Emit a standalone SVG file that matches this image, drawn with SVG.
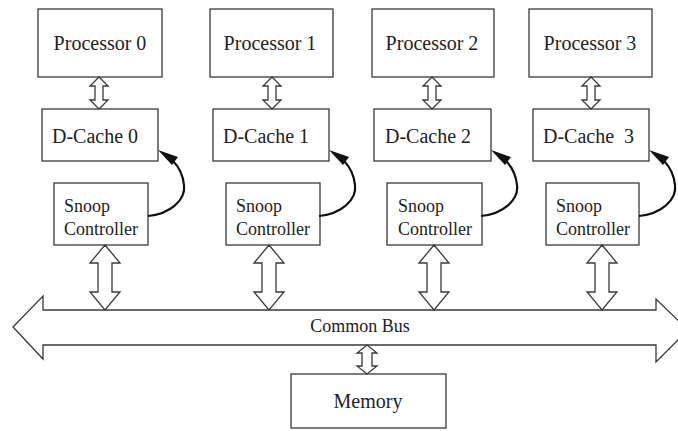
<svg xmlns="http://www.w3.org/2000/svg" width="678" height="431" viewBox="0 0 678 431">
<style>
.box{fill:#fff;stroke:#3a3a3a;stroke-width:1.3}
.t{font-family:"Liberation Serif","Times New Roman",serif;font-size:20px;fill:#222}
.ts{font-family:"Liberation Serif","Times New Roman",serif;font-size:18px;fill:#222}
.da{fill:#fff;stroke:#3a3a3a;stroke-width:1.3;stroke-linejoin:miter}
.cv{fill:none;stroke:#111;stroke-width:2.2}
.ah{fill:#111}
</style>
<defs>
<path id="pa" d="M0,0 L9,9 L4,9 L4,23 L9,23 L0,32 L-9,23 L-4,23 L-4,9 L-9,9 Z"/>
<path id="sa" d="M0,0 L15,18 L7,18 L7,47 L15,47 L0,65 L-15,47 L-7,47 L-7,18 L-15,18 Z"/>
<g id="curve">
<path class="cv" d="M148,216 C170,214 186,200 184,185 C183,175 179,167 173,161"/>
<polygon class="ah" points="158,150 178,157 172,165"/>
</g>
</defs>
<g id="bus">
<path class="da" d="M13,327 L43,296 L43,310 L656,310 L656,299 L688,330 L656,362 L656,345 L43,345 L43,359 Z"/>
<text class="ts" x="360" y="332" text-anchor="middle">Common Bus</text>
</g>
<g id="p0"><rect class="box" x="38" y="9" width="124" height="68"/><text class="t" x="100" y="50" text-anchor="middle">Processor 0</text></g>
<g id="p1"><rect class="box" x="210" y="9" width="123" height="68"/><text class="t" x="270" y="50" text-anchor="middle">Processor 1</text></g>
<g id="p2"><rect class="box" x="372" y="9" width="122" height="68"/><text class="t" x="432" y="50" text-anchor="middle">Processor 2</text></g>
<g id="p3"><rect class="box" x="529" y="9" width="123" height="68"/><text class="t" x="590" y="50" text-anchor="middle">Processor 3</text></g>
<g id="c0"><rect class="box" x="42" y="109" width="116" height="52"/><text class="t" x="52" y="143">D-Cache 0</text></g>
<g id="c1"><rect class="box" x="213" y="109" width="116" height="52"/><text class="t" x="223" y="143">D-Cache 1</text></g>
<g id="c2"><rect class="box" x="374" y="109" width="117" height="52"/><text class="t" x="385" y="143">D-Cache 2</text></g>
<g id="c3"><rect class="box" x="533" y="109" width="116" height="52"/><text class="t" x="543" y="143" xml:space="preserve">D-Cache  3</text></g>
<g id="s0"><rect class="box" x="54" y="183" width="94" height="62"/><text class="ts" x="64" y="212">Snoop</text><text class="ts" x="64" y="235">Controller</text></g>
<g id="s1"><rect class="box" x="226" y="183" width="94" height="62"/><text class="ts" x="236" y="212">Snoop</text><text class="ts" x="236" y="235">Controller</text></g>
<g id="s2"><rect class="box" x="387" y="183" width="95" height="62"/><text class="ts" x="398" y="212">Snoop</text><text class="ts" x="398" y="235">Controller</text></g>
<g id="s3"><rect class="box" x="546" y="183" width="93" height="62"/><text class="ts" x="556" y="212">Snoop</text><text class="ts" x="556" y="235">Controller</text></g>
<g id="mem"><rect class="box" x="291" y="374" width="155" height="54"/><text class="t" x="368" y="408" text-anchor="middle">Memory</text></g>
<g id="connectors">
<use href="#pa" class="da" x="99" y="77"/>
<use href="#pa" class="da" x="272" y="77"/>
<use href="#pa" class="da" x="432" y="77"/>
<use href="#pa" class="da" x="591" y="77"/>
<use href="#sa" class="da" x="105" y="245"/>
<use href="#sa" class="da" x="269" y="245"/>
<use href="#sa" class="da" x="434" y="245"/>
<use href="#sa" class="da" x="602" y="245"/>
<path class="da" d="M367,345 L377,353 L372,353 L372,366 L377,366 L367,374 L357,366 L362,366 L362,353 L357,353 Z"/>
<use href="#curve"/>
<use href="#curve" x="171"/>
<use href="#curve" x="333"/>
<use href="#curve" x="491"/>
</g>
</svg>
